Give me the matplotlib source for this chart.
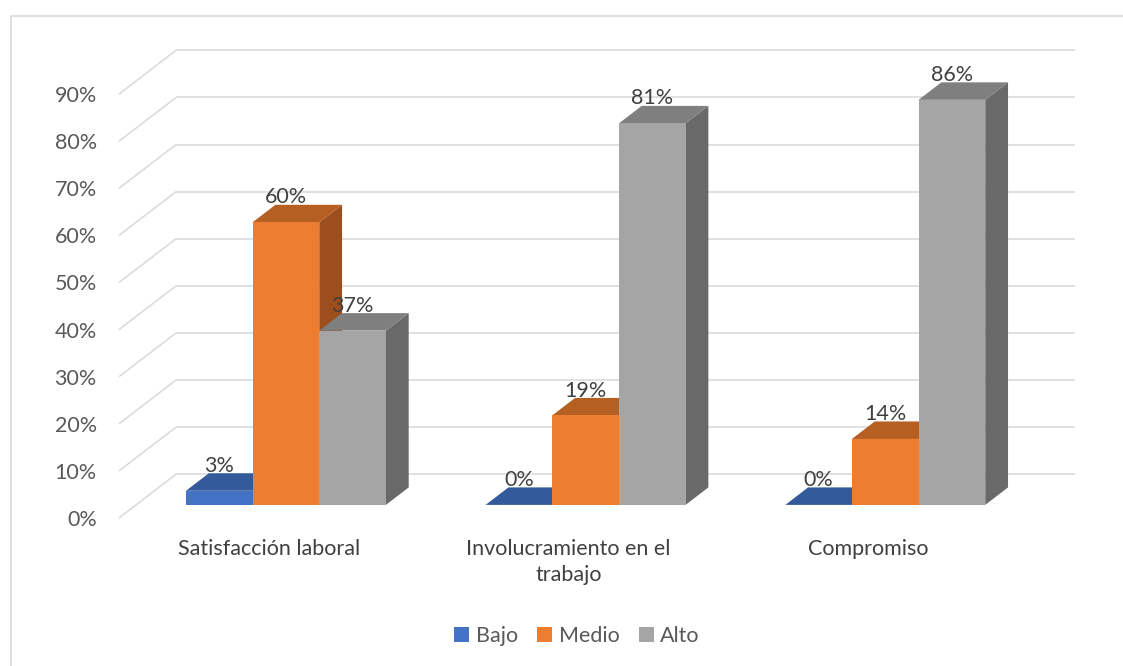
import matplotlib
matplotlib.use("Agg")
import matplotlib.pyplot as plt
from matplotlib.patches import Polygon, Patch
from matplotlib.lines import Line2D

plt.rcParams['font.family'] = ['Lato', 'DejaVu Sans']

# Data
categories = ["Satisfacción laboral", "Involucramiento en el\ntrabajo", "Compromiso"]
series_names = ["Bajo", "Medio", "Alto"]
bajo = [3, 0, 0]
medio = [60, 19, 14]
alto = [37, 81, 86]
values = [bajo, medio, alto]
ytick_values = list(range(0, 100, 10))

# Colours: front, top, side for each series
front_colors = ["#4472C4", "#ED7D31", "#A5A5A5"]
top_colors = ["#335A9B", "#B65F23", "#7F7F7F"]
side_colors = ["#2A4A80", "#9C4F1C", "#696969"]

FS = 15.5

W, H = 1123, 666
fig = plt.figure(figsize=(W / 100, H / 100), dpi=100)

# pseudo-3D geometry (front plane in data units)
px_per_pct = 4.71
cat_px = 299.7
DX = 57 / cat_px          # full floor depth, x offset in category units
DY = 43.7 / px_per_pct    # full floor depth, y offset in percent units
f_front, f_back = 0.30, 0.70
d = f_back - f_front
bar_w = 0.2224

left_px, right_px, zero_px, top_px = 119, 1018, 518, 15
ax = fig.add_axes([left_px / W, (H - zero_px) / H,
                   (right_px - left_px) / W, (zero_px - top_px) / H])
ax.set_xlim(-0.5, 2.5)
ax.set_ylim(0, (zero_px - top_px) / px_per_pct)
for s in ax.spines.values():
    s.set_visible(False)
ax.set_xticks([])
ax.set_yticks(ytick_values)
ax.set_yticklabels([f"{v}%" for v in ytick_values])
ax.tick_params(axis='y', length=0, pad=16, labelsize=FS, labelcolor="#595959")

grid_c = "#D9D9D9"
x0, x1 = -0.5, 2.5
for v in ytick_values:
    ax.plot([x0 + DX, x1 + DX], [v + DY, v + DY], color=grid_c, lw=1.1,
            zorder=1, clip_on=False, solid_capstyle='butt')
    ax.plot([x0, x0 + DX], [v, v + DY], color=grid_c, lw=1.1,
            zorder=1, clip_on=False, solid_capstyle='butt')

base = f_front * DY
z = 3
for ci in range(len(categories)):
    for si in range(len(series_names)):
        v = values[si][ci]
        xc = ci + (si - 1) * bar_w + f_front * DX
        xl, xr = xc - bar_w / 2, xc + bar_w / 2
        top_y = base + v
        # side face
        if v > 0:
            ax.add_patch(Polygon([(xr, base), (xr, top_y),
                                  (xr + d * DX, top_y + d * DY),
                                  (xr + d * DX, base + d * DY)],
                                 closed=True, facecolor=side_colors[si],
                                 edgecolor='none', zorder=z))
        # top face
        ax.add_patch(Polygon([(xl, top_y), (xr, top_y),
                              (xr + d * DX, top_y + d * DY),
                              (xl + d * DX, top_y + d * DY)],
                             closed=True, facecolor=top_colors[si],
                             edgecolor='none', zorder=z + 0.1))
        # front face
        if v > 0:
            ax.bar(xc, v, width=bar_w, bottom=base, color=front_colors[si],
                   edgecolor='none', zorder=z + 0.2)
        ax.text(xc, top_y + d * DY + 0.3, f"{v}%", ha='center', va='baseline',
                fontsize=FS, color="#404040", zorder=10)
        z += 1

for ci, name in enumerate(categories):
    ax.text(ci, -(539 - zero_px) / px_per_pct, name, ha='center', va='top',
            multialignment='center', fontsize=FS, color="#404040",
            linespacing=1.4)

handles = [Patch(facecolor=c, edgecolor='none') for c in front_colors]
fig.legend(handles, series_names, loc='center', bbox_to_anchor=(577 / W, 1 - 636 / H),
           ncol=3, frameon=False, fontsize=FS, labelcolor="#595959",
           handlelength=0.7, handleheight=0.7, handletextpad=0.3,
           columnspacing=0.9)

# chart frame
fig.add_artist(Line2D([10.5 / W, 10.5 / W, 1.0], [0.0, 1 - 15.5 / H, 1 - 15.5 / H],
                      transform=fig.transFigure, color="#D9D9D9", lw=1.2))

fig.savefig("out.png", dpi=100)
